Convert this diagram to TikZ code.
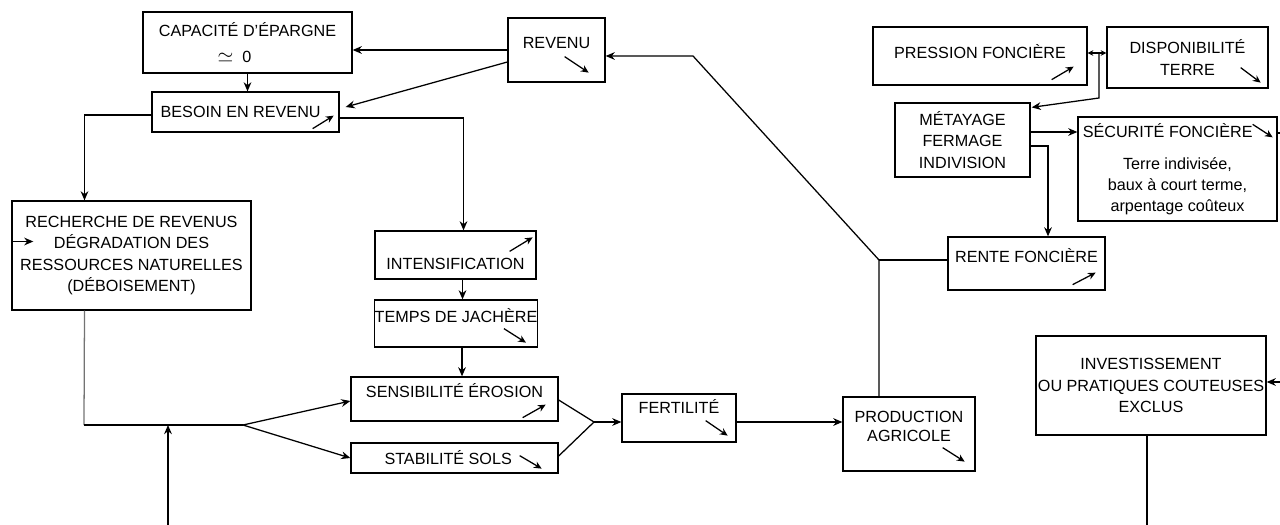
\documentclass[tikz,border=0pt]{standalone}
\usepackage{fontspec}
\setmainfont{Liberation Sans}
\usetikzlibrary{arrows.meta, positioning, calc}

\begin{document}
\begin{tikzpicture}[x=0.025cm, y=-0.025cm,
  font=\fontsize{11.5}{15}\selectfont,
  box/.style={draw, line width=0.9pt, align=center, inner sep=0pt},
  link/.style={line width=0.9pt},
  arr/.style={line width=0.9pt, -{Stealth[length=6.5pt,width=5.5pt]}},
  dbl/.style={line width=0.8pt, {Stealth[length=4pt,width=4pt]}-{Stealth[length=4pt,width=4pt]}},
  trend/.style={line width=0.9pt, -{Stealth[length=5.5pt,width=5pt]}},
  lift/.style={text height=8.2pt, text depth=#1},
  sink/.style={text height=#1, text depth=0pt}]

  \useasboundingbox (0,0) rectangle (1280,525);

  % boxes, left part
  \node[box, minimum width=5.225cm, minimum height=1.525cm] (cap) at (247.5,42.5)
    {CAPACITÉ D'ÉPARGNE\\[3pt]\hspace*{-1.6em}{\Large$\simeq$}\ \ 0};
  \node[box, minimum width=4.675cm, minimum height=1cm] (besoin) at (245.5,112)
    {BESOIN EN REVENU\hspace*{0.6em}};
  \node[box, minimum width=2.425cm, minimum height=1.6cm, lift=10pt] (revenu) at (556.5,50) {REVENU};
  \node[box, minimum width=5.975cm, minimum height=2.725cm] (rech) at (131.5,255.5)
    {RECHERCHE DE REVENUS\\DÉGRADATION DES\\RESSOURCES NATURELLES\\(DÉBOISEMENT)};
  \node[box, minimum width=4.025cm, minimum height=1.2cm, sink=21pt] (intens) at (455.5,255) {INTENSIFICATION};
  \node[box, minimum width=4.05cm, minimum height=1.175cm, lift=9.2pt] (temps) at (456,323.5) {TEMPS DE JACHÈRE};
  \node[box, minimum width=5.175cm, minimum height=1.1cm, lift=10pt] (sens) at (454.5,399) {SENSIBILITÉ ÉROSION};
  \node[box, minimum width=5.175cm, minimum height=0.75cm] (stab) at (454.5,458) {STABILITÉ SOLS\hspace*{9pt}};
  \node[box, minimum width=2.85cm, minimum height=1.2cm, lift=14.2pt] (fert) at (679,418) {FERTILITÉ};
  \node[box, minimum width=3.3cm, minimum height=1.85cm, text depth=10.6pt] (prod) at (909,434)
    {PRODUCTION\\[-1.5pt]AGRICOLE};

  % boxes, right part
  \node[box, minimum width=5.35cm, minimum height=1.45cm, lift=4.3pt] (pression) at (980,56) {PRESSION FONCIÈRE};
  \node[box, minimum width=4.025cm, minimum height=1.525cm] (dispo) at (1187.5,57.5) {DISPONIBILITÉ\\TERRE};
  \node[box, minimum width=3.375cm, minimum height=1.85cm] (metay) at (962.5,140) {MÉTAYAGE\\FERMAGE\\INDIVISION};
  \node[box, minimum width=4.975cm, minimum height=2.6cm] (secu) at (1177.5,169)
    {SÉCURITÉ FONCIÈRE\hspace*{14pt}\\[8pt]Terre indivisée,\\baux à court terme,\\arpentage coûteux};
  \node[box, minimum width=3.925cm, minimum height=1.325cm, lift=9.2pt] (rente) at (1026.5,263.5) {RENTE FONCIÈRE};
  \node[box, minimum width=5.75cm, minimum height=2.475cm] (invest) at (1151,385.5)
    {INVESTISSEMENT\\OU PRATIQUES COUTEUSES\\EXCLUS};

  % trend arrows inside the boxes
  \draw[trend] ([shift={(-27,-4)}]besoin.south east) -- ++(21,-13);
  \draw[trend] ([shift={(-41,-26)}]revenu.south east) -- ++(24,16);
  \draw[trend] ([shift={(-27,21)}]intens.north east) -- ++(23,-14);
  \draw[trend] ([shift={(-34,-19)}]temps.south east) -- ++(22,14);
  \draw[trend] ([shift={(-36,-4)}]sens.south east) -- ++(23,-13);
  \draw[trend] ([shift={(-39,-18)}]stab.south east) -- ++(22,13);
  \draw[trend] ([shift={(-31,-22)}]fert.south east) -- ++(22,15);
  \draw[trend] ([shift={(-33,-24)}]prod.south east) -- ++(22,14);
  \draw[trend] ([shift={(-33,-6)}]rente.south east) -- ++(23,-12);
  \draw[trend] ([shift={(-36,-6)}]pression.south east) -- ++(22,-13);
  \draw[trend] ([shift={(-28,-21)}]dispo.south east) -- ++(20,15);
  \draw[trend] ([shift={(-25,8)}]secu.north east) -- ++(20,13);
  \draw[arr] ([shift={(0,-14)}]rech.west) -- ++(22,0);

  % junctions
  \coordinate (corner) at (84,425);
  \coordinate (split) at (243,425);
  \coordinate (foot) at (168,525);
  \coordinate (merge) at (594,422);
  \coordinate (hub) at (879,260);
  \coordinate (bend) at (693,56);
  \coordinate (fork) at (1099,53);
  \coordinate (knee) at (1099,98);
  \coordinate (rim1) at (1280,133);
  \coordinate (rim2) at (1280,382);
  \coordinate (foot2) at (1147,525);

  % connectors
  \draw[arr] (revenu.west) -- (revenu.west -| cap.east);
  \draw[arr] ([shift={(0,12)}]revenu.west) -- ([shift={(6,-5)}]besoin.east);
  \draw[arr] (cap.south) -- (cap.south |- besoin.north);
  \draw[arr] ([shift={(0,6)}]besoin.east) -| ([shift={(8,0)}]intens.north);
  \draw[arr] ([shift={(0,3)}]besoin.west) -| ([shift={(-47,0)}]rech.north);
  \draw[link, black!55] ([shift={(-47,0)}]rech.south) -- (corner);
  \draw[link] (corner) -- (split);
  \draw[arr] (foot) -- (foot |- split);
  \draw[arr] (split) -- ([shift={(0,2)}]sens.west);
  \draw[arr] (split) -- (stab.west);
  \draw[arr] ([shift={(7,0)}]intens.south) -- ([shift={(7,0)}]intens.south |- temps.north);
  \draw[arr] ([shift={(6,0)}]temps.south) -- ([shift={(6,0)}]temps.south |- sens.north);
  \draw[link] ([shift={(0,1)}]sens.east) -- (merge);
  \draw[link] ([shift={(0,-2)}]stab.east) -- (merge);
  \draw[arr] (merge) -- (merge -| fert.west);
  \draw[arr] ([shift={(0,4)}]fert.east) -- ([shift={(0,4)}]fert.east -| prod.west);
  \draw[arr] (hub |- prod.north) -- (hub) -- (bend) -- (bend -| revenu.east);
  \draw[link] (hub) -- (hub -| rente.west);
  \draw[dbl] (fork -| pression.east) -- (fork -| dispo.west);
  \draw[arr] (fork) -- (knee) -- ([shift={(1,5)}]metay.north east);
  \draw[arr] ([shift={(0,-8)}]metay.east) -- ([shift={(0,-8)}]metay.east -| secu.west);
  \draw[arr] ([shift={(0,6)}]metay.east) -| ([shift={(21.5,0)}]rente.north);
  \draw[link] (rim1 -| secu.east) -- (rim1);
  \draw[arr] (rim2) -- (rim2 -| invest.east);
  \draw[link] (foot2 |- invest.south) -- (foot2);
\end{tikzpicture}
\end{document}
